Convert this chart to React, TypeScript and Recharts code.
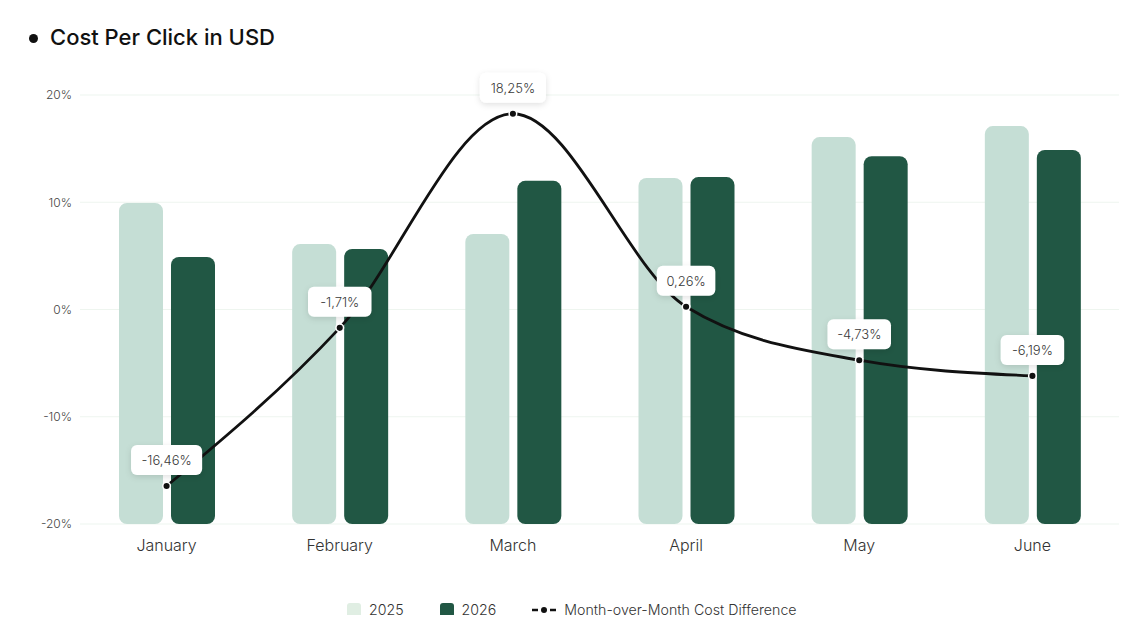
import React from 'react';
import { ComposedChart, Bar, Line, XAxis, YAxis, CartesianGrid, LabelList } from 'recharts';

const months = ['January', 'February', 'March', 'April', 'May', 'June'];
const cpc2025 = [9.93, 6.1, 7.04, 12.26, 16.08, 17.1];
const cpc2026 = [4.9, 5.64, 12.0, 12.35, 14.3, 14.87];
const momDiff = [-16.46, -1.71, 18.25, 0.26, -4.73, -6.19];
const yTicks = [-20, -10, 0, 10, 20];

const AXIS_MIN = -20;
const AXIS_MAX = 20;

const LIGHT = '#c5ded5';
const DARK = '#215744';
const FONT = 'Inter, "Noto Sans", sans-serif';

const data = months.map((month, i) => ({
  month,
  y2025: cpc2025[i],
  y2026: cpc2026[i],
  diff: momDiff[i],
}));

const fmt = (v: number) => `${v.toFixed(2).replace('.', ',')}%`;

// rough text width for 13px labels
const textWidth = (s: string) =>
  s.split('').reduce((w, c) => w + (c === ',' ? 3.2 : c === '%' ? 10.5 : c === '-' ? 5 : 7.6), 0);

const DiffLabel = (props: any) => {
  const { x, y, value } = props;
  if (x == null || y == null) return null;
  const text = fmt(value);
  const w = textWidth(text) + 22;
  const h = 30;
  const cy = y - 26;
  return (
    <g>
      <rect x={x - w / 2} y={cy - h / 2} width={w} height={h} rx={6} fill="#fff" filter="url(#labelShadow)" />
      <text x={x} y={cy} textAnchor="middle" dominantBaseline="central" fontSize={13} fill="#3a3a3a" fontFamily={FONT} fontWeight={300}>
        {text}
      </text>
    </g>
  );
};

const DiffDot = (props: any) => {
  const { cx, cy, index } = props;
  return <circle key={`dot-${index}`} cx={cx} cy={cy} r={3.8} fill="#111" stroke="#fff" strokeWidth={1.5} />;
};

const LegendItem = ({ color, label, ml }: { color: string; label: string; ml: number }) => (
  <div style={{ display: 'flex', alignItems: 'center', marginLeft: ml }}>
    <div style={{ width: 14, height: 14, borderRadius: 3, background: color, marginRight: 8 }} />
    <span>{label}</span>
  </div>
);

export default function App() {
  return (
    <div style={{ position: 'relative', width: 1148, height: 623, margin: -8, background: '#fff', fontFamily: FONT }}>
      <div style={{ position: 'absolute', left: 29, top: 34, width: 9, height: 9, borderRadius: '50%', background: '#111' }} />
      <div style={{ position: 'absolute', left: 50, top: 24, fontSize: 22, fontWeight: 500, color: '#111', letterSpacing: 0 }}>
        Cost Per Click in USD
      </div>

      <ComposedChart
        width={1148}
        height={623}
        data={data}
        margin={{ top: 95, right: 29, bottom: 69, left: 0 }}
        barSize={44}
        barGap={8}
      >
        <defs>
          <filter id="labelShadow" x="-30%" y="-40%" width="160%" height="190%">
            <feDropShadow dx="0" dy="2" stdDeviation="3" floodColor="#000" floodOpacity="0.12" />
          </filter>
        </defs>
        <CartesianGrid vertical={false} stroke="#eef5ef" strokeWidth={1.2} />
        <XAxis
          dataKey="month"
          axisLine={false}
          tickLine={false}
          height={30}
          tickMargin={10}
          tick={{ fontSize: 16, fill: '#333', fontFamily: FONT, fontWeight: 300 }}
        />
        <YAxis
          domain={[AXIS_MIN, AXIS_MAX]}
          ticks={yTicks}
          width={80}
          axisLine={false}
          tickLine={false}
          tickFormatter={(v) => `${v}%`}
          tick={{ fontSize: 12, fill: '#444', fontFamily: FONT, fontWeight: 300 }}
        />
        <Bar dataKey={(d: any) => [AXIS_MIN, d.y2025]} name="2025" fill={LIGHT} radius={8} isAnimationActive={false} />
        <Bar dataKey={(d: any) => [AXIS_MIN, d.y2026]} name="2026" fill={DARK} radius={8} isAnimationActive={false} />
        <Line
          type="monotone"
          dataKey="diff"
          name="Month-over-Month Cost Difference"
          stroke="#111"
          strokeWidth={2.8}
          dot={<DiffDot />}
          activeDot={false}
          isAnimationActive={false}
        >
          <LabelList dataKey="diff" content={<DiffLabel />} />
        </Line>
      </ComposedChart>

      <div
        style={{
          position: 'absolute',
          left: 339,
          top: 601,
          display: 'flex',
          alignItems: 'center',
          fontSize: 14.2,
          color: '#333',
          fontWeight: 300,
        }}
      >
        <LegendItem color="#e0eee3" label="2025" ml={8} />
        <LegendItem color={DARK} label="2026" ml={36} />
        <div style={{ display: 'flex', alignItems: 'center', marginLeft: 36 }}>
          <svg width={24} height={10} style={{ marginRight: 8 }}>
            <line x1={0} y1={5} x2={6} y2={5} stroke="#111" strokeWidth={2.5} />
            <circle cx={12} cy={5} r={3} fill="#111" />
            <line x1={18} y1={5} x2={24} y2={5} stroke="#111" strokeWidth={2.5} />
          </svg>
          <span>Month-over-Month Cost Difference</span>
        </div>
      </div>
    </div>
  );
}
